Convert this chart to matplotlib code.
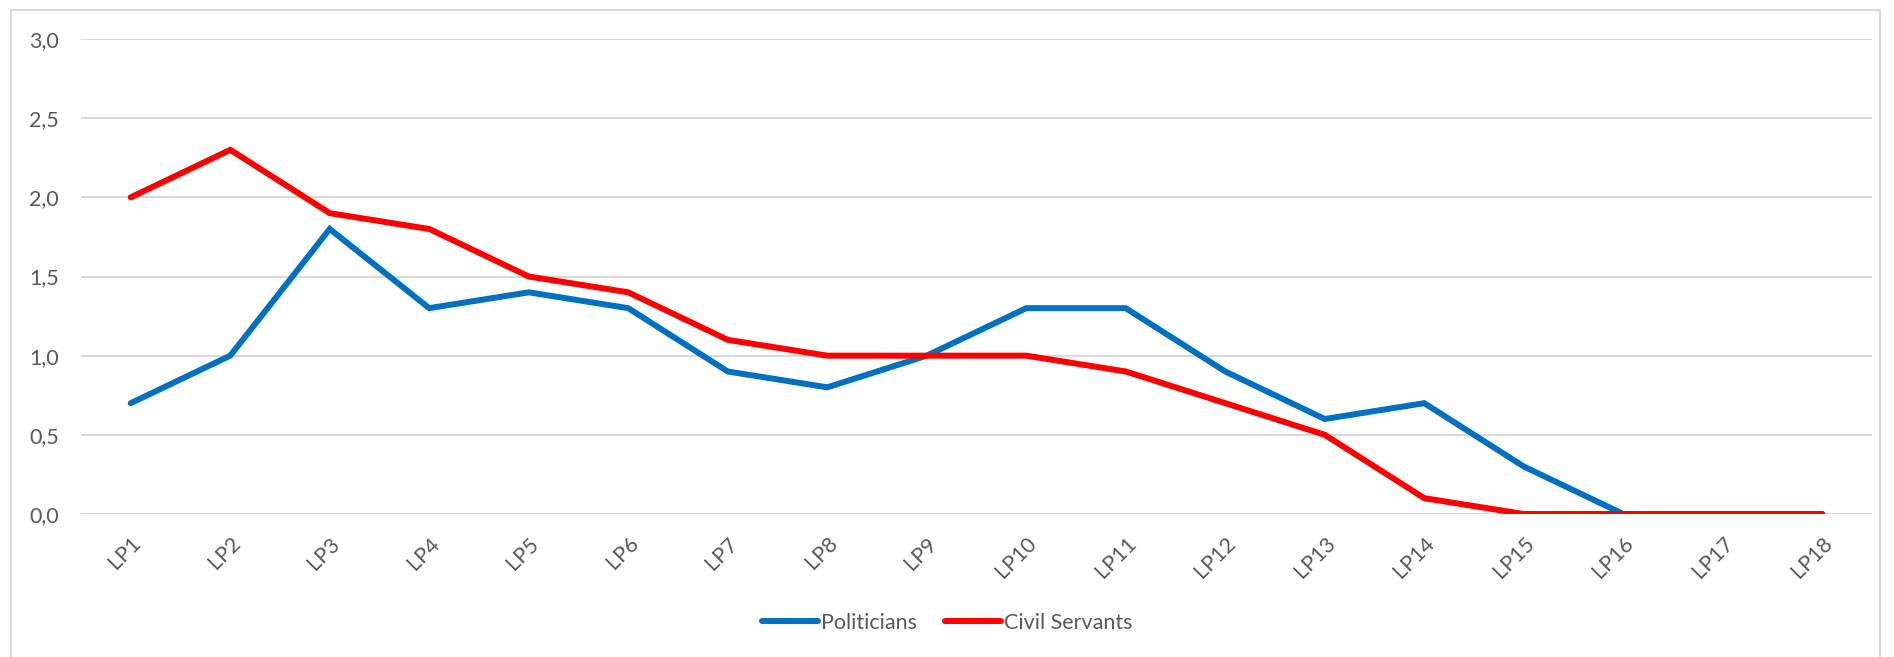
import matplotlib.pyplot as plt
from matplotlib.patches import Rectangle
from matplotlib.ticker import FuncFormatter

categories = ['LP%d' % i for i in range(1, 19)]
politicians = [0.7, 1.0, 1.8, 1.3, 1.4, 1.3, 0.9, 0.8, 1.0, 1.3, 1.3, 0.9, 0.6, 0.7, 0.3, 0.0, 0.0, 0.0]
civil_servants = [2.0, 2.3, 1.9, 1.8, 1.5, 1.4, 1.1, 1.0, 1.0, 1.0, 0.9, 0.7, 0.5, 0.1, 0.0, 0.0, 0.0, 0.0]

plt.rcParams['font.family'] = ['Lato', 'DejaVu Sans']
text_color = '#595959'

fig = plt.figure(figsize=(18.94, 6.57), dpi=100)
# axes: x 81..1872 px, y 39..514 px (from top)
ax = fig.add_axes([81 / 1894, 1 - 514 / 657, (1872 - 81) / 1894, (514 - 39) / 657])

x = list(range(len(categories)))
ax.plot(x, politicians, color='#0070C0', lw=4.3, solid_capstyle='round',
        solid_joinstyle='miter', label='Politicians', zorder=3)
ax.plot(x, civil_servants, color='#FF0000', lw=4.3, solid_capstyle='round',
        solid_joinstyle='miter', label='Civil Servants', zorder=4)

ax.set_xlim(-0.5, len(categories) - 0.5)
ax.set_ylim(0, 3.0)
ax.set_yticks([0, 0.5, 1.0, 1.5, 2.0, 2.5, 3.0])
ax.yaxis.set_major_formatter(FuncFormatter(lambda v, p: ('%.1f' % v).replace('.', ',')))
ax.set_xticks(x)
ax.set_xticklabels(categories, rotation=45, ha='right', va='top',
                   rotation_mode='anchor')
ax.grid(axis='y', color='#D9D9D9', lw=1.5, zorder=0)
ax.set_axisbelow(True)
for s in ax.spines.values():
    s.set_visible(False)
ax.tick_params(axis='both', length=0, labelsize=15.5, colors=text_color)
ax.tick_params(axis='x', pad=14)
ax.tick_params(axis='y', pad=16)

leg = fig.legend(loc='center', bbox_to_anchor=(0.5, 1 - 623 / 657), ncol=2,
                 frameon=False, fontsize=15.5, handlelength=2.6, handletextpad=0.15,
                 columnspacing=1.3)
for t in leg.get_texts():
    t.set_color(text_color)

# chart border
fig.patches.append(Rectangle((11 / 1894, -0.01), (1880 - 11) / 1894, 1 - 10 / 657 + 0.01,
                             transform=fig.transFigure, fill=False,
                             edgecolor='#D9D9D9', lw=1.5))

fig.savefig('out.png', dpi=100)
